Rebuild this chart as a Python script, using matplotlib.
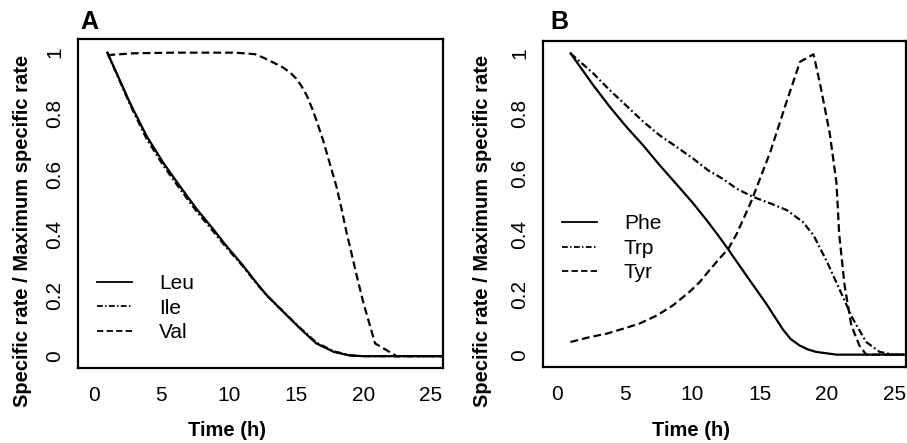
import numpy as np
from matplotlib import pyplot as plt

plt.rcParams['font.family'] = ['Liberation Sans', 'DejaVu Sans']

# panel A: branched-chain amino acids
t_leu = [1, 2.67, 3.91, 5.15, 6.38, 7.62, 8.86, 9.7, 11.0, 12.2, 12.82, 14.05, 15.3, 16.5, 17.8, 19.0, 20.0, 26]
leu = [1.0, 0.835, 0.725, 0.637, 0.56, 0.485, 0.418, 0.37, 0.302, 0.234, 0.201, 0.146, 0.091, 0.042, 0.014, 0.002, 0.0, 0.0]
t_ile = [1, 2.67, 3.91, 5.15, 6.38, 7.62, 8.86, 9.7, 11.0, 12.2, 12.82, 14.05, 15.3, 16.5, 17.8, 19.0, 20.0, 26]
ile = [1.0, 0.83, 0.716, 0.628, 0.551, 0.477, 0.411, 0.365, 0.299, 0.232, 0.2, 0.147, 0.093, 0.045, 0.016, 0.003, 0.0, 0.0]
t_val = [1, 3, 6, 9, 10.5, 11.95, 12.5, 13.2, 14.0, 14.55, 15.0, 15.4, 15.8, 16.2, 16.5, 17.0, 17.5, 18.0, 18.4, 18.76, 19.0, 19.5, 20.0, 20.86, 22.47, 26]
val = [0.992, 0.998, 1.0, 1.0, 1.0, 0.995, 0.985, 0.97, 0.952, 0.935, 0.915, 0.89, 0.858, 0.815, 0.778, 0.712, 0.635, 0.558, 0.48, 0.404, 0.36, 0.265, 0.175, 0.042, 0.0, 0.0]

# panel B: aromatic amino acids
t_phe = [1, 2.67, 3.9, 5.14, 6.37, 7.6, 8.84, 10.07, 11.07, 12.0, 12.67, 14.27, 15.5, 16.74, 17.3, 17.98, 18.6, 19.2, 20.7, 26]
phe = [1.0, 0.895, 0.823, 0.756, 0.695, 0.629, 0.566, 0.503, 0.447, 0.392, 0.35, 0.247, 0.169, 0.083, 0.052, 0.03, 0.017, 0.009, 0.0, 0.0]
t_trp = [1, 2.67, 3.9, 5.14, 6.37, 7.6, 8.84, 10.07, 11.19, 12.3, 13.3, 14.5, 15.8, 17.0, 18.2, 19.0, 20.0, 20.9, 21.9, 22.9, 23.9, 24.9, 26]
trp = [1.0, 0.934, 0.878, 0.826, 0.774, 0.728, 0.69, 0.651, 0.612, 0.583, 0.551, 0.524, 0.502, 0.48, 0.441, 0.396, 0.308, 0.219, 0.12, 0.042, 0.009, 0.0, 0.0]
t_tyr = [1, 2.4, 3.7, 4.9, 6.1, 7.4, 8.6, 9.8, 10.57, 11.1, 12.05, 12.67, 13.3, 14.4, 15.8, 17.0, 18.0, 19.0, 19.5, 20.2, 20.7, 20.9, 21.3, 21.8, 22.4, 22.9, 26]
tyr = [0.042, 0.058, 0.07, 0.086, 0.103, 0.13, 0.164, 0.208, 0.241, 0.27, 0.32, 0.35, 0.40, 0.51, 0.673, 0.839, 0.972, 0.997, 0.895, 0.735, 0.57, 0.40, 0.23, 0.097, 0.03, 0.0, 0.0]

xticks = [0, 5, 10, 15, 20, 25]
yticks = [0, 0.2, 0.4, 0.6, 0.8, 1]
ytick_labels = ['0', '0.2', '0.4', '0.6', '0.8', '1']

W, H = 907, 443
fig = plt.figure(figsize=(W / 100, H / 100), dpi=100)

SOLID = dict(color='k', lw=1.6, ls='-')
DOTDASH = dict(color='k', lw=1.6, dashes=[3.2, 1.3, 0.8, 1.3])
DASHED = dict(color='k', lw=1.6, dashes=[3.5, 1.8])


def setup(ax, xlim, ylim):
    ax.set_xlim(*xlim)
    ax.set_ylim(*ylim)
    ax.set_xticks(xticks)
    ax.set_yticks(yticks)
    ax.set_yticklabels(ytick_labels)
    ax.tick_params(axis='x', length=0, pad=13, labelsize=15)
    ax.tick_params(axis='y', length=0, pad=10, labelsize=15)
    plt.setp(ax.get_yticklabels(), rotation=90, va='center')
    for s in ax.spines.values():
        s.set_linewidth(1.6)


# boxes measured in pixels of the figure
axA = fig.add_axes([78 / W, 1 - 368 / H, (443 - 78) / W, (368 - 39) / H])
axA.plot(t_leu, leu, label='Leu', **SOLID)
axA.plot(t_ile, ile, label='Ile', **DOTDASH)
axA.plot(t_val, val, label='Val', **DASHED)
setup(axA, (-1.18, 25.9), (-0.039, 1.045))

axB = fig.add_axes([543 / W, 1 - 367 / H, (906 - 543) / W, (367 - 41) / H])
axB.plot(t_phe, phe, label='Phe', **SOLID)
axB.plot(t_trp, trp, label='Trp', **DOTDASH)
axB.plot(t_tyr, tyr, label='Tyr', **DASHED)
setup(axB, (-1.04, 25.85), (-0.041, 1.041))

for ax, (x, y) in [(axA, (0.052, 0.182)), (axB, (0.0515, 0.364))]:
    leg = ax.legend(loc='center left', bbox_to_anchor=(x, y), frameon=False, fontsize=15,
                    handlelength=1.68, handletextpad=1.3, labelspacing=0.26,
                    borderpad=0, borderaxespad=0)
    for ln in leg.get_lines():
        ln.set_linewidth(1.3)

for xc in [23, 483]:
    fig.text(xc / W, 1 - 231 / H, 'Specific rate / Maximum specific rate',
             rotation=90, ha='center', va='center', fontsize=14.5, weight='bold')
fig.text(227 / W, 1 - 430 / H, 'Time (h)', ha='center', va='center', fontsize=14.5, weight='bold')
fig.text(691 / W, 1 - 430 / H, 'Time (h)', ha='center', va='center', fontsize=14.5, weight='bold')
fig.text(80 / W, 1 - 22 / H, 'A', ha='left', va='center', fontsize=18, weight='bold')
fig.text(550 / W, 1 - 22 / H, 'B', ha='left', va='center', fontsize=18, weight='bold')

fig.savefig('out.png', dpi=100)
